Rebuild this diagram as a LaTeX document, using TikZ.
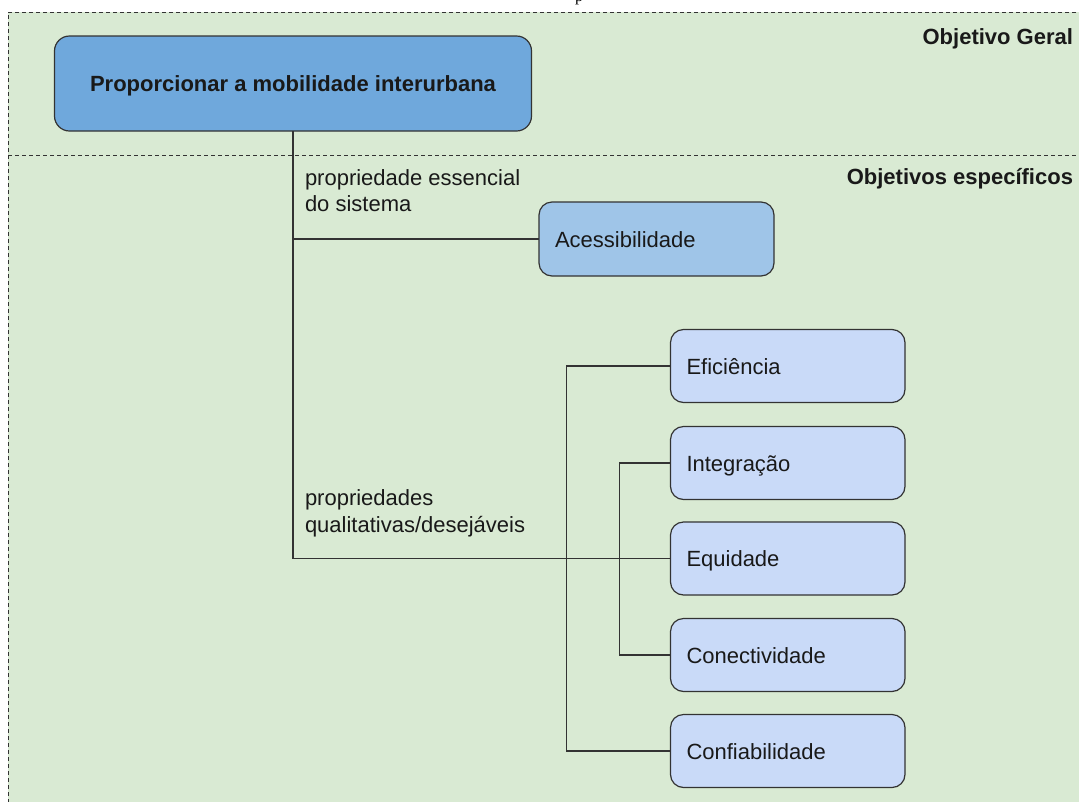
\documentclass[tikz,border=0pt]{standalone}
\usepackage{fontspec}
\setmainfont{Liberation Sans}
\newfontfamily\captionserif{Liberation Serif}
\definecolor{panelgreen}{HTML}{D9EAD3}
\definecolor{goalblue}{HTML}{6FA8DC}
\definecolor{corecblue}{HTML}{9FC5E8}
\definecolor{qualblue}{HTML}{C9DAF8}
\definecolor{inkgray}{HTML}{333333}
\begin{document}
\begin{tikzpicture}[x=1pt,y=-1pt,
  every node/.style={inner sep=0pt, outer sep=0pt},
  txt/.style={font=\fontsize{22}{26.5}\selectfont, text=black!90},
  heading/.style={font=\fontsize{22}{26.5}\selectfont\bfseries, text=black!90},
  frame/.style={draw=inkgray, line width=1pt, dash pattern=on 4pt off 3pt},
  box/.style={draw=inkgray, line width=1.2pt, rounded corners=13pt,
    text height=20pt, text depth=4pt, inner xsep=16pt, align=left,
    font=\fontsize{22}{26.5}\selectfont, text=black!90},
  goalbox/.style={box, fill=goalblue, rounded corners=15pt, align=center,
    minimum width=477pt, minimum height=95pt,
    font=\fontsize{22}{26.5}\selectfont\bfseries},
  corebox/.style={box, fill=corecblue, minimum width=235pt, minimum height=74pt,
    text width=203pt},
  qualbox/.style={box, fill=qualblue, minimum width=234.5pt, minimum height=73pt,
    text width=202.5pt},
  link/.style={draw=inkgray, line width=1.2pt}
]
\useasboundingbox (0,0) rectangle (1079,801);

% dashed panels: general goal on top, specific goals below
\fill[panelgreen] (8,12) rectangle (1090,812);
\draw[frame] (1090,12) -- (8,12) -- (8,812);
\draw[frame] (8,155) -- (1079,155);

% caption line above the panels (only its descender falls on the page)
\node[anchor=base, font=\captionserif\fontsize{16}{18}\selectfont] (caption) at (579,1.5) {p};

\node[heading, anchor=base east] (geral) at (1073,44) {Objetivo Geral};
\node[heading, anchor=base east] (especificos) at (1073,184) {Objetivos específicos};

% goal and objectives
\node[goalbox] (goal) at (293,83.5) {Proporcionar a mobilidade interurbana};
\node[corebox] (acess) at (656.5,239) {Acessibilidade};
\node[qualbox] (efic) at (787.75,366) {Eficiência};
\node[qualbox] (integ) at (787.75,463) {Integração};
\node[qualbox] (equid) at (787.75,558.5) {Equidade};
\node[qualbox] (conect) at (787.75,655) {Conectividade};
\node[qualbox] (confi) at (787.75,751) {Confiabilidade};

% branch labels
\node[txt, anchor=base west] (essl1) at (305,185) {propriedade essencial};
\node[txt, anchor=base west] (essl2) at (305,211) {do sistema};
\node[txt, anchor=base west] (quall1) at (305,505) {propriedades};
\node[txt, anchor=base west] (quall2) at (305,532) {qualitativas/desejáveis};

% connectors
\draw[link] (goal.south) |- (acess.west);
\draw[link] (goal.south) |- (equid.west);
\draw[link] (efic.west) -- +(-104,0) |- (confi.west);
\draw[link] (integ.west) -- +(-51,0) |- (conect.west);
\end{tikzpicture}
\end{document}
